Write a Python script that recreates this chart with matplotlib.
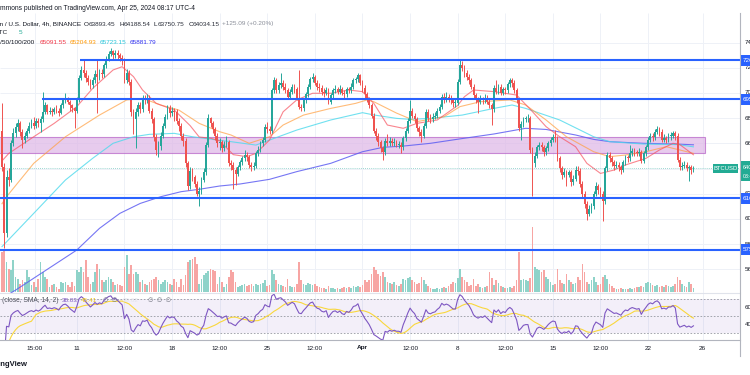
import numpy as np
import pandas as pd
import matplotlib
matplotlib.use('Agg')
import matplotlib.pyplot as plt
from matplotlib.patches import Rectangle
from matplotlib.lines import Line2D
from matplotlib import transforms

plt.rcParams['font.family'] = ['Liberation Sans', 'DejaVu Sans']

# BTCUSD 4h candles (prices in thousands of USD), first candle opens at first_open
first_open = 67.0
closes = [
    64.1, 58.85, 63.3, 63.1, 66.0, 66.8, 67.3, 67.6, 66.9, 66.3,
    66.6, 67.0, 67.4, 67.6, 67.4, 67.8, 67.6, 67.9, 68.5, 69.0,
    68.5, 68.6, 68.5, 68.7, 68.6, 68.4, 69.0, 69.4, 69.5, 69.3,
    69.0, 68.8, 68.6, 69.5, 71.2, 71.8, 71.6, 71.2, 70.9, 70.6,
    71.0, 71.5, 71.3, 71.6, 71.5, 72.2, 72.7, 73.1, 73.3, 73.0,
    73.2, 73.0, 72.8, 72.6, 71.0, 71.6, 70.9, 68.5, 67.9, 68.5,
    69.0, 68.7, 69.5, 69.4, 69.6, 68.6, 67.9, 66.5, 65.5, 65.8,
    66.6, 67.4, 68.1, 68.8, 68.4, 68.6, 68.5, 67.8, 67.4, 66.6,
    66.2, 64.4, 62.6, 63.8, 63.3, 62.8, 62.0, 62.2, 63.1, 63.7,
    65.9, 68.0, 67.6, 67.1, 66.6, 66.0, 66.1, 65.6, 65.9, 66.1,
    64.4, 64.3, 63.9, 63.6, 64.1, 64.5, 64.8, 65.1, 64.9, 64.3,
    64.1, 64.2, 65.2, 65.5, 66.0, 66.3, 67.3, 67.1, 67.0, 70.2,
    71.0, 70.2, 70.6, 70.8, 70.5, 70.2, 69.7, 70.1, 70.5, 70.3,
    69.6, 68.9, 68.8, 69.4, 69.9, 70.5, 71.1, 71.3, 70.8, 70.5,
    70.4, 70.1, 70.0, 70.2, 69.3, 69.8, 70.2, 70.3, 70.1, 70.3,
    70.0, 69.9, 70.3, 70.2, 70.5, 71.0, 71.1, 71.4, 70.8, 70.4,
    69.9, 69.5, 69.0, 68.2, 67.0, 66.6, 66.1, 65.6, 65.3, 66.2,
    66.0, 66.2, 66.0, 66.1, 65.9, 65.9, 65.7, 66.4, 67.0, 67.8,
    68.6, 68.2, 67.9, 67.2, 66.9, 66.6, 67.4, 68.5, 68.0, 67.9,
    68.1, 68.2, 68.6, 68.9, 69.7, 69.5, 69.7, 69.6, 69.4, 69.2,
    69.2, 70.9, 72.2, 72.0, 71.6, 71.3, 71.0, 70.5, 69.8, 69.5,
    69.3, 69.5, 69.4, 69.6, 69.3, 69.0, 68.7, 70.4, 70.1, 70.5,
    70.0, 70.3, 70.2, 70.7, 71.0, 70.8, 70.2, 69.4, 67.2, 67.5,
    67.9, 68.0, 68.0, 65.5, 64.4, 65.0, 65.7, 65.9, 65.7, 65.3,
    65.6, 66.0, 66.3, 66.5, 66.4, 64.8, 64.0, 63.5, 63.7, 63.5,
    63.7, 62.9, 63.2, 63.9, 63.8, 62.8, 62.0, 61.2, 60.4, 60.8,
    61.0, 62.0, 62.6, 62.3, 62.0, 61.4, 64.0, 65.1, 64.8, 64.5,
    64.2, 64.3, 64.1, 63.9, 64.5, 64.9, 64.8, 65.2, 65.4, 65.3,
    65.2, 65.3, 64.6, 65.2, 65.7, 66.3, 66.6, 66.5, 66.9, 67.1,
    66.9, 66.3, 66.4, 66.3, 66.6, 66.6, 66.8, 66.6, 64.7, 64.1,
    64.2, 64.3, 64.0, 64.1, 63.89, 64.03,
]
highs = [
    69.2, 64.4, 63.9, 64.0, 66.3, 67.2, 67.6, 67.9, 67.8, 67.1,
    66.9, 67.2, 67.7, 67.9, 68.1, 68.0, 68.0, 68.2, 70.1, 69.3,
    69.1, 68.9, 68.8, 68.9, 69.0, 68.8, 69.2, 69.6, 70.0, 69.7,
    69.4, 69.1, 68.9, 69.7, 71.4, 72.1, 72.6, 71.8, 71.4, 71.1,
    71.3, 71.8, 72.6, 71.9, 71.9, 72.4, 72.9, 73.3, 73.6, 73.4,
    73.4, 73.4, 73.2, 73.0, 72.8, 71.9, 71.8, 71.1, 68.7, 68.8,
    69.3, 69.3, 69.8, 69.8, 69.9, 69.8, 68.8, 68.1, 66.7, 66.2,
    66.9, 67.6, 68.3, 69.0, 69.0, 68.9, 68.8, 68.7, 68.0, 67.6,
    66.8, 66.4, 64.6, 64.1, 64.0, 63.5, 63.0, 62.5, 63.3, 64.0,
    66.1, 68.3, 68.1, 67.8, 67.3, 66.8, 66.4, 66.3, 66.2, 66.6,
    66.3, 64.7, 64.5, 64.1, 64.3, 64.7, 65.0, 65.5, 65.3, 65.1,
    64.5, 64.5, 65.4, 65.8, 66.2, 66.5, 67.5, 67.7, 67.4, 70.4,
    71.3, 71.2, 70.9, 71.6, 71.0, 70.8, 70.4, 70.3, 70.7, 70.7,
    70.5, 71.8, 69.1, 69.6, 70.1, 70.7, 71.3, 71.55, 71.4, 71.0,
    70.8, 70.6, 70.4, 70.5, 70.4, 70.0, 70.4, 70.6, 70.5, 70.6,
    70.5, 70.2, 70.5, 70.5, 70.8, 71.2, 71.3, 71.6, 71.5, 71.0,
    70.6, 70.1, 69.7, 69.2, 68.4, 67.2, 66.8, 66.3, 65.8, 66.4,
    66.7, 66.5, 66.4, 66.4, 66.3, 66.2, 66.1, 66.6, 67.2, 68.0,
    69.4, 68.8, 68.4, 68.1, 67.4, 67.1, 67.6, 68.7, 68.7, 68.3,
    68.4, 68.5, 68.8, 69.1, 69.9, 70.0, 70.1, 69.9, 69.8, 69.6,
    69.5, 71.1, 72.6, 72.5, 72.2, 71.8, 71.5, 71.2, 70.7, 70.0,
    69.7, 69.8, 69.7, 69.9, 69.8, 69.5, 69.2, 70.6, 71.0, 70.7,
    70.7, 70.5, 70.5, 70.9, 71.2, 71.2, 71.0, 70.4, 69.6, 67.8,
    68.1, 68.2, 68.3, 68.2, 65.7, 65.3, 65.9, 66.1, 66.1, 65.9,
    65.8, 66.2, 66.5, 66.7, 67.05, 66.6, 65.0, 64.2, 64.0, 63.9,
    63.9, 63.9, 63.5, 64.2, 64.2, 64.0, 63.0, 62.2, 61.4, 61.1,
    61.3, 62.2, 62.9, 62.8, 62.5, 62.2, 64.2, 65.3, 65.3, 65.0,
    64.7, 64.6, 64.5, 64.3, 64.7, 65.1, 65.1, 65.85, 65.6, 65.6,
    65.5, 65.6, 65.5, 65.4, 65.9, 66.5, 66.8, 66.8, 67.1, 67.4,
    67.3, 67.1, 66.7, 66.6, 66.8, 66.9, 67.0, 67.0, 66.8, 64.9,
    64.5, 64.6, 64.5, 64.3, 64.3, 64.19,
]
lows = [
    63.8, 57.7, 58.6, 62.6, 62.9, 65.8, 66.5, 67.0, 66.6, 65.6,
    66.0, 66.4, 66.8, 67.2, 67.1, 67.2, 67.3, 66.9, 67.7, 68.3,
    68.3, 68.3, 68.2, 68.3, 68.4, 68.2, 68.3, 68.8, 69.2, 69.1,
    68.6, 68.5, 67.2, 68.4, 69.3, 71.0, 71.3, 70.9, 70.6, 70.3,
    70.4, 70.8, 68.4, 71.0, 71.2, 71.3, 72.0, 72.5, 72.9, 72.7,
    72.8, 72.7, 72.5, 72.2, 70.8, 70.8, 70.6, 68.2, 66.7, 65.6,
    68.2, 68.4, 68.5, 69.1, 69.2, 68.4, 67.6, 66.2, 65.1, 64.9,
    65.5, 66.4, 67.2, 67.9, 68.1, 68.2, 67.8, 67.5, 67.0, 66.3,
    65.8, 64.1, 62.3, 62.4, 63.0, 62.5, 61.8, 61.0, 62.0, 62.9,
    63.5, 65.7, 67.3, 66.8, 66.3, 65.7, 65.5, 65.3, 65.4, 65.7,
    64.2, 63.9, 62.4, 62.7, 63.4, 63.9, 64.3, 64.6, 64.6, 64.0,
    63.8, 63.9, 64.0, 65.0, 65.3, 65.8, 66.1, 66.8, 66.7, 66.8,
    70.0, 70.0, 70.0, 70.4, 70.2, 70.0, 69.5, 69.5, 69.9, 70.0,
    69.4, 68.7, 68.6, 68.6, 69.2, 69.7, 70.3, 70.9, 70.6, 70.2,
    70.1, 69.8, 69.7, 69.8, 69.1, 69.1, 69.6, 70.0, 69.9, 69.9,
    69.8, 69.6, 69.7, 70.0, 70.0, 70.3, 70.8, 70.9, 70.6, 70.1,
    69.6, 69.3, 68.8, 68.0, 66.8, 66.3, 65.8, 65.3, 64.7, 65.1,
    65.8, 65.8, 65.8, 65.8, 65.7, 65.6, 65.2, 65.5, 66.2, 66.8,
    67.6, 68.0, 67.6, 67.0, 66.6, 66.1, 66.4, 67.2, 67.8, 67.6,
    67.7, 67.9, 68.0, 68.4, 68.7, 69.2, 69.3, 69.3, 69.1, 68.9,
    68.9, 69.0, 70.7, 71.7, 71.3, 71.0, 70.7, 70.3, 69.6, 69.2,
    68.4, 69.1, 69.1, 69.2, 69.1, 68.8, 67.45, 68.5, 69.9, 69.9,
    69.8, 69.8, 69.9, 70.0, 70.5, 70.5, 70.0, 69.2, 67.0, 66.3,
    67.3, 67.7, 67.7, 65.2, 61.8, 64.1, 64.8, 65.5, 65.4, 65.0,
    65.1, 65.4, 65.8, 66.1, 66.1, 64.6, 63.7, 63.2, 63.3, 62.6,
    63.3, 62.6, 62.7, 63.0, 63.5, 62.5, 61.7, 60.9, 59.9, 60.2,
    60.5, 60.8, 61.8, 62.0, 61.7, 59.8, 61.2, 63.8, 64.5, 64.2,
    63.9, 64.0, 63.8, 63.6, 63.7, 64.3, 64.5, 64.6, 65.0, 65.0,
    65.0, 65.0, 64.4, 64.4, 65.0, 65.5, 66.1, 66.2, 66.3, 66.7,
    66.6, 66.1, 66.1, 66.0, 66.1, 66.3, 66.4, 66.3, 64.5, 63.9,
    63.9, 64.0, 63.8, 63.0, 63.6, 63.75,
]
# volume, relative units
volumes = [
    40, 42, 30, 23, 22, 32, 15, 13, 8, 12,
    10, 22, 15, 7, 10, 5, 13, 30, 20, 15,
    13, 5, 7, 8, 5, 3, 10, 9, 10, 7,
    5, 10, 6, 22, 20, 25, 20, 32, 15, 8,
    10, 20, 28, 23, 12, 10, 12, 15, 13, 10,
    7, 8, 7, 6, 25, 37, 18, 27, 18, 20,
    18, 10, 12, 8, 7, 10, 12, 13, 15, 12,
    8, 10, 12, 10, 8, 7, 13, 10, 5, 13,
    7, 17, 30, 32, 33, 35, 28, 8, 13, 17,
    19, 21, 23, 22, 21, 8, 15, 10, 5, 8,
    15, 22, 20, 10, 5, 6, 7, 8, 6, 7,
    8, 6, 8, 7, 8, 9, 12, 6, 7, 22,
    18, 12, 8, 7, 6, 5, 13, 6, 5, 5,
    8, 30, 12, 8, 7, 9, 8, 7, 8, 6,
    5, 4, 4, 3, 6, 4, 4, 3, 4, 3,
    4, 5, 4, 5, 4, 6, 5, 6, 5, 7,
    12, 10, 12, 18, 25, 22, 18, 16, 20, 15,
    10, 9, 8, 10, 7, 6, 8, 13, 12, 14,
    15, 12, 10, 8, 9, 15, 12, 8, 6, 4,
    3, 3, 4, 3, 4, 5, 4, 6, 8, 10,
    9, 14, 23, 15, 12, 10, 6, 7, 13, 6,
    8, 5, 4, 5, 6, 20, 14, 7, 12, 9,
    6, 5, 4, 4, 5, 4, 6, 12, 40, 12,
    13, 12, 11, 14, 65, 25, 23, 22, 20, 22,
    15, 13, 10, 7, 8, 23, 12, 9, 8, 18,
    12, 10, 8, 9, 15, 12, 28, 20, 10, 8,
    12, 15, 10, 7, 8, 15, 17, 13, 8, 6,
    4, 3, 3, 4, 3, 3, 3, 4, 3, 4,
    5, 5, 6, 5, 9, 10, 9, 7, 6, 7,
    5, 6, 5, 7, 6, 5, 6, 8, 15, 12,
    8, 6, 5, 10, 8, 4,
]

# moving averages (candle index, value in thousands)
ma20_x = [0, 3, 14, 23, 33, 40, 49, 53, 58, 62, 68, 76, 83, 87, 92, 96, 102, 108, 112, 118,
          124, 130, 137, 145, 153, 159, 164, 170, 177, 183, 192, 201, 204, 208, 217, 227, 234,
          240, 246, 253, 258, 264, 270, 275, 284, 290, 296, 299, 305]
ma20_v = [64.6, 65.2, 66.52, 67.58, 68.91, 70.36, 71.82, 72.08, 71.29, 70.23, 69.17, 68.64,
          67.4, 66.5, 66.4, 66.2, 65.1, 64.94, 65.2, 66.26, 68.5, 69.44, 69.97, 69.97, 70.23,
          70.1, 69.17, 67.45, 67.19, 67.58, 67.85, 69.0, 69.7, 70.23, 70.1, 69.83, 68.51, 67.32,
          66.52, 65.73, 64.41, 63.61, 63.88, 64.28, 64.8, 65.47, 66.0, 65.9, 65.09]
ma50_x = [0, 2, 14, 28, 43, 55, 62, 70, 78, 87, 96, 101, 109, 118, 124, 133, 145, 156, 161, 164,
          174, 183, 195, 202, 211, 224, 231, 240, 249, 261, 268, 275, 284, 293, 299, 305]
ma50_v = [61.2, 61.76, 64.41, 66.52, 68.24, 69.44, 69.57, 69.04, 68.64, 67.58, 66.92, 66.66,
          66.0, 66.52, 67.45, 68.24, 68.77, 69.17, 69.44, 69.3, 68.4, 67.72, 68.11, 68.91, 69.3,
          69.44, 69.04, 67.85, 66.52, 65.33, 64.94, 65.07, 65.33, 65.73, 65.47, 65.2]
ma100_x = [0, 14, 28, 40, 49, 58, 65, 76, 84, 95, 101, 112, 120, 130, 145, 159, 164, 174, 180,
           189, 203, 217, 225, 231, 246, 261, 268, 283, 298, 305]
ma100_v = [57.8, 60.44, 63.09, 64.81, 66.0, 66.52, 66.71, 66.79, 66.52, 66.26, 66.13, 65.86,
           66.39, 67.05, 67.85, 68.43, 68.25, 67.98, 67.9, 67.98, 68.24, 68.77, 69.04, 68.77,
           67.85, 66.52, 66.13, 65.94, 65.9, 65.72]
ma200_x = [0, 6, 33, 43, 52, 61, 70, 79, 87, 96, 105, 118, 130, 145, 159, 168, 177, 189, 202,
           217, 231, 240, 253, 261, 268, 283, 298, 305]
ma200_v = [53.7, 54.35, 57.53, 59.25, 60.44, 61.23, 61.76, 62.16, 62.35, 62.61, 62.77, 63.14,
           63.75, 64.41, 65.33, 65.68, 65.78, 66.0, 66.35, 66.74, 67.19, 67.1, 66.66, 66.31,
           66.13, 66.0, 65.94, 65.88]

# horizontal levels drawn on the chart
levels = [72.6, 69.5, 61.65, 57.55]
level_start = [34.4, 17.6, -1, -1]
zone_low, zone_high, zone_end = 65.2, 66.47, 310.1

tick_pos = [14.6, 33, 54, 75, 96, 117, 138, 159, 180, 201, 222, 243, 264, 285, 309]
tick_lab = ['15:00', '11', '12:00', '18', '12:00', '25', '12:00', 'Apr', '12:00', '8',
            '12:00', '15', '12:00', '22', '26']
price_ticks = list(range(56000, 76000, 2000))

# ---- derived
c = np.array(closes) * 1000
o = np.concatenate([[first_open * 1000], c[:-1]])
h = np.array(highs) * 1000
l = np.array(lows) * 1000
idx = np.arange(len(c))
up = c >= o
GREEN, RED = '#26a69a', '#ef5350'
col = np.where(up, GREEN, RED)

delta = pd.Series(c - o)
gain = delta.clip(lower=0).ewm(alpha=1/14, adjust=True).mean()
loss = (-delta.clip(upper=0)).ewm(alpha=1/14, adjust=True).mean()
rsi = 100 - 100 / (1 + gain / loss)
rsi_ma = rsi.rolling(14, min_periods=1).mean()

# ---- layout in pixels
W, H = 750, 375
def rect(x0, y0, x1, y1):
    return [x0 / W, 1 - y1 / H, (x1 - x0) / W, (y1 - y0) / H]

PX = 2.267                     # px per candle
X0, X1 = -2 / PX, (740 - 2) / PX
PPK = 12.6                     # px per 1000 USD, price 74000 at y=42.5
def price_at(ypx):
    return 74000 - (ypx - 42.5) / PPK * 1000

fig = plt.figure(figsize=(7.5, 3.75), dpi=100)
fig.patch.set_facecolor('white')

ax_bg = fig.add_axes(rect(0, 13, 740, 340))
ax_bg.set_xlim(X0, X1)
ax_bg.set_ylim(price_at(340), price_at(13))
ax_bg.vlines(tick_pos, price_at(340), price_at(13), color='#eef1f7', lw=0.7)
ax_bg.hlines(price_ticks, X0, X1, color='#eef1f7', lw=0.7)
ax_bg.axis('off')

ax_vol = fig.add_axes(rect(0, 222, 740, 292))
ax_vol.set_xlim(X0, X1)
ax_vol.set_ylim(0, 70)
vcol = np.where(up, '#8fd3c9', '#f7a5a3')
ax_vol.bar(idx, volumes, width=0.75, color=vcol, lw=0)
ax_vol.axis('off')

ax = fig.add_axes(rect(0, 13, 740, 293))
ax.set_xlim(X0, X1)
ax.set_ylim(price_at(293), price_at(13))
ax.axis('off')

ax.add_patch(Rectangle((X0 - 1, zone_low * 1000), zone_end - X0 + 1, (zone_high - zone_low) * 1000,
                       facecolor='#ddb6e6', edgecolor='#b55fc6', lw=0.8, alpha=0.7, zorder=1))

ax.plot(ma200_x, np.array(ma200_v) * 1000, color='#5e5ef2', lw=0.8, alpha=0.85, zorder=2)
ax.plot(ma100_x, np.array(ma100_v) * 1000, color='#4dd9ec', lw=0.8, alpha=0.8, zorder=2)
ax.plot(ma50_x, np.array(ma50_v) * 1000, color='#ff9f40', lw=0.8, alpha=0.7, zorder=2)
ax.plot(ma20_x, np.array(ma20_v) * 1000, color='#f7525f', lw=0.8, alpha=0.7, zorder=2)

ax.axhline(c[-1], color=GREEN, lw=0.6, ls=(0, (1, 1.5)), alpha=0.6, zorder=2)

ax.vlines(idx, l, h, colors=col, lw=0.7, zorder=3)
body = np.maximum(np.abs(c - o), 40)
ax.bar(idx, body, bottom=np.minimum(o, c), width=0.8, color=col, lw=0, zorder=3)

for lv, st in zip(levels, level_start):
    ax.hlines(lv * 1000, st, X1, color='#2962ff', lw=1.5, zorder=4)

# right price scale (clipped by figure edge like the screenshot)
bt = transforms.blended_transform_factory(ax.transAxes, ax.transData)
pxd = 1000 / PPK
for p in price_ticks:
    if abs(p - c[-1]) < 10 * pxd:      # hidden under the last-price tag
        continue
    ax.text(744.5 / 740, p, f'{p:.2f}', transform=bt, fontsize=4.5, color='#131722',
            va='center', ha='left', clip_on=False)
for lv in levels:
    ax.add_patch(Rectangle((740.5 / 740, lv * 1000 - 5.5 * pxd), 14 / 740, 11 * pxd,
                           transform=bt, facecolor='#2962ff', lw=0, clip_on=False, zorder=5))
    ax.text(743 / 740, lv * 1000, f'{lv * 1000:.2f}', transform=bt, fontsize=4.5,
            color='white', va='center', ha='left', clip_on=False, zorder=6)
ax.add_patch(Rectangle((740.5 / 740, c[-1] - 12.5 * pxd), 14 / 740, 20 * pxd,
                       transform=bt, facecolor='#22ab94', lw=0, clip_on=False, zorder=5))
ax.text(743 / 740, c[-1] + 1 * pxd, f'{c[-1]:.2f}', transform=bt, fontsize=4.0, color='white',
        va='center', ha='left', clip_on=False, zorder=6)
ax.text(743 / 740, c[-1] - 8 * pxd, '03:42:07', transform=bt, fontsize=3.8, color='white',
        va='center', ha='left', clip_on=False, zorder=6)
ax.add_patch(Rectangle((713 / 740, c[-1] - 4.5 * pxd), 25 / 740, 9 * pxd,
                       transform=bt, facecolor='#22ab94', lw=0, clip_on=False, zorder=5))
ax.text(725.5 / 740, c[-1], 'BTCUSD', transform=bt, fontsize=4.2, color='white',
        va='center', ha='center', clip_on=False, zorder=6)

# RSI pane
ax_r = fig.add_axes(rect(0, 293, 740, 340))
ax_r.set_xlim(X0, X1)
ax_r.set_ylim(21.2, 77.6)
ax_r.axhspan(30, 70, color='#7e57c2', alpha=0.09, lw=0)
ax_r.hlines([70, 50, 30], X0, X1, color='#9598a1', lw=0.6, ls=(0, (2, 2)))
ax_r.plot(idx, rsi_ma, color='#f9d73c', lw=0.8)
ax_r.plot(idx, rsi, color='#7e57c2', lw=0.8)
ax_r.axis('off')
rt = transforms.blended_transform_factory(ax_r.transAxes, ax_r.transData)
for v in (60, 40):
    ax_r.text(744.5 / 740, v, f'{v:.2f}', transform=rt, fontsize=4.5, color='#131722',
              va='center', ha='left', clip_on=False)

# time axis labels
xt = ax_r.get_xaxis_transform()
for pos, lab in zip(tick_pos, tick_lab):
    ax_r.text(pos, -8 / 47, lab, transform=xt, fontsize=4.6, color='#131722', ha='center',
              va='center', fontweight='bold' if lab == 'Apr' else 'normal', clip_on=False)

# frame lines
for xs, ys, cl in [([0, 740], [293, 293], '#e0e3eb'), ([0, 740], [340, 340], '#b2b5be'),
                   ([740, 740], [13, 356], '#b2b5be')]:
    fig.add_artist(Line2D([x / W for x in xs], [1 - y / H for y in ys],
                          transform=fig.transFigure, color=cl, lw=0.8))

# header texts
def txt(x, y, s, **kw):
    kw.setdefault('fontsize', 4.6)
    kw.setdefault('color', '#131722')
    fig.text(x / W, 1 - y / H, s, va='center', **kw)

txt(-0.5, 8, 'mmons published on TradingView.com, Apr 25, 2024 08:17 UTC-4', fontsize=4.8)
txt(81, 24, 'Bitcoin / U.S. Dollar, 4h, BINANCE', ha='right')
for x, k, v in [(84, 'O', '63893.45'), (119, 'H', '64188.54'),
                (153.5, 'L', '63750.75'), (188.5, 'C', '64034.15')]:
    txt(x, 24, k)
    txt(x + 4.6, 24, v, color='#2a2e39')
txt(222, 24, '+125.09 (+0.20%)', color='#8a8e99')
txt(7.5, 33, 'Vol · BTC', ha='right')
txt(19, 33, '5', color='#22ab94')
txt(34.5, 42, 'MA 20/50/100/200', ha='right')
for x, v, cl in [(40, '65091.55', '#f23645'), (70, '65204.93', '#ff9800'),
                 (100, '65723.15', '#26c6da'), (130, '65881.79', '#3030f0')]:
    txt(x, 42, v, color=cl)

txt(58, 300.5, 'RSI 14 (close, SMA, 14, 2)', ha='right', color='#50535e', fontsize=4.8)
txt(62, 300.5, '38.03', color='#7e57c2', fontsize=4.6)
txt(81, 300.5, '45.41', color='#e8c31c', fontsize=4.6)
txt(103, 300.5, '∅  ∅', color='#787b86', fontsize=4.4)
txt(123, 300.5, '39.62', color='#e3e5ec', fontsize=4.6)
txt(148, 300.5, '∅  ∅  ∅', color='#787b86', fontsize=4.4)

txt(28, 365, 'TradingView', ha='right', fontsize=5.5, fontweight='bold')

fig.savefig('out.png', dpi=100, facecolor='white')
